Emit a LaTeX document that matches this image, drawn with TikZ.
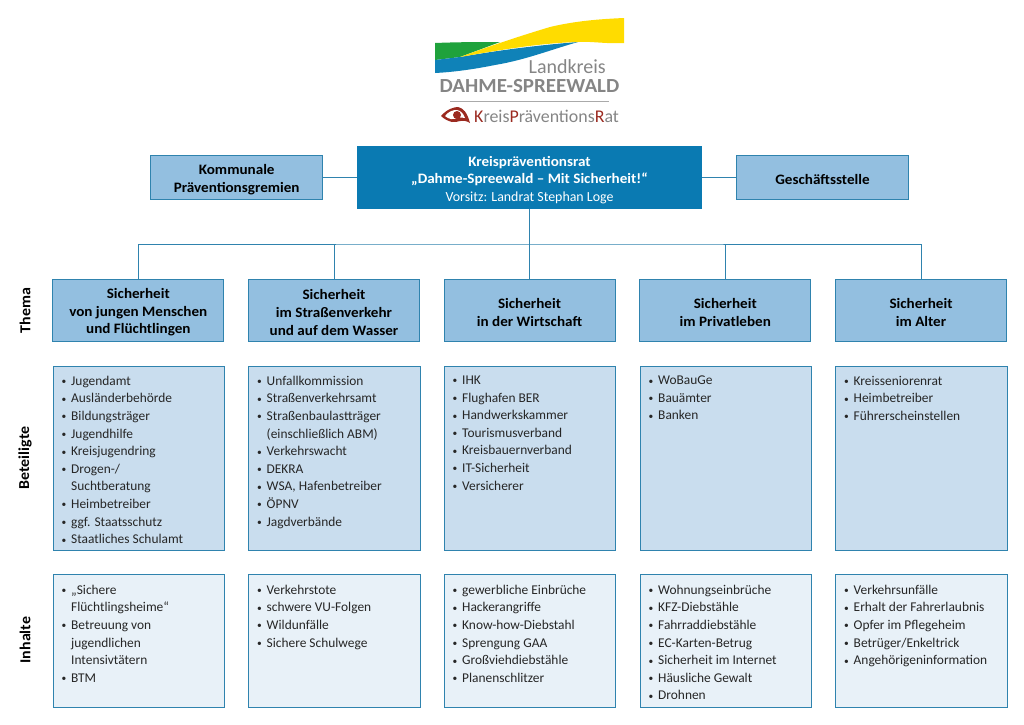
\documentclass[tikz,border=0pt]{standalone}
\usepackage{fontspec}
\setmainfont{Carlito}
\newfontfamily\widefont[FakeStretch=1.05]{Carlito}
\usetikzlibrary{positioning}
\definecolor{ratblue}{HTML}{0A7AB2}
\definecolor{edgeblue}{HTML}{2F83AE}
\definecolor{headblue}{HTML}{93BFE0}
\definecolor{midblue}{HTML}{C9DDEE}
\definecolor{paleblue}{HTML}{E8F1F8}
\definecolor{logogreen}{HTML}{1FA23C}
\definecolor{logoblue}{HTML}{0F82B8}
\definecolor{logoyellow}{HTML}{FFDC00}
\definecolor{logogray}{HTML}{858585}
\definecolor{logored}{HTML}{9B2A20}
\newcommand{\itm}{\makebox[9.5pt][l]{\raisebox{0.6pt}{\fontsize{9.5}{9.5}\selectfont\textbullet}}}
\newcommand{\ctn}{\hspace*{9.5pt}}
\newcommand{\bodyfont}{\fontsize{13.4}{17.6}\selectfont}
\newcommand{\headfont}{\widefont\fontsize{14.4}{17.6}\selectfont\bfseries}
\tikzset{
box/.style={draw=edgeblue,line width=1pt,minimum height=#1,inner sep=0pt,align=center},
head/.style={box=62pt,fill=headblue,minimum width=171pt,font=\headfont},
side/.style={box=44.5pt,fill=headblue,minimum width=171.5pt,font=\headfont},
list/.style={draw=edgeblue,line width=1pt,minimum width=171.5pt,minimum height=#1,anchor=north west},
who/.style={list=184.5pt,fill=midblue},
what/.style={list=132.5pt,fill=paleblue},
items/.style={anchor=north west,inner sep=0pt,align=left,text=black!85,font=\bodyfont},
rowlabel/.style={rotate=90,font=\widefont\fontsize{15.2}{16}\selectfont\bfseries},
link/.style={draw=edgeblue,line width=1pt}
}
\begin{document}
\begin{tikzpicture}[x=1pt,y=-1pt]
\useasboundingbox (0,0) rectangle (1024,724);
% logo
\fill[logogreen] (435,43) .. controls (460,42) and (480,42) .. (500,42) -- (460,57) -- (435,60) -- cycle;
\fill[logoblue] (435,60) -- (460,57) .. controls (500,50) and (540,45) .. (578,42) .. controls (550,50) and (525,60) .. (495,65) .. controls (475,69) and (455,72) .. (435,73) -- cycle;
\fill[logoyellow] (460,57) .. controls (490,46) and (520,36) .. (550,27) .. controls (575,21) and (600,19) .. (624,18) -- (624,43) .. controls (605,44) and (590,41) .. (578,42) .. controls (540,43) and (500,50) .. (460,57) -- cycle;
\node[anchor=base east,inner sep=0pt,text=logogray,font=\fontsize{20}{20}\selectfont] (landkreis) at (606,73) {Landkreis};
\node[anchor=base,inner sep=0pt,text=logogray,font=\widefont\fontsize{20}{20}\selectfont\bfseries] (dahme) at (529.5,92.5) {DAHME-SPREEWALD};
\draw[logogray!70,line width=0.6pt] (450,101) -- (609,101);
\fill[logored] (441,116) .. controls (447,109) and (454,107) .. (458,107) .. controls (463,108) and (467,112) .. (470,123) .. controls (462,118) and (458,123) .. (452,122) .. controls (448,121) and (444,119) .. (441,116) -- cycle;
\fill[white] (445,116) .. controls (449,111) and (453,110) .. (457,110) .. controls (461,111) and (463,113) .. (465,118) .. controls (459,116) and (455,120) .. (451,119) .. controls (449,118.5) and (447,118) .. (445,116) -- cycle;
\fill[logored] (457,115) circle (4pt);
\node[anchor=base west,inner sep=0pt,text=logogray,font=\fontsize{17.9}{18}\selectfont] (krat) at (474,122) {\textcolor{logored}{K}reis\textcolor{logored}{P}räventions\textcolor{logored}{R}at};
% top row
\node[box=62.5pt,fill=ratblue,draw=none,minimum width=344.5pt,text=white,font=\headfont] (rat) at (529.5,177.5) {\rule{0pt}{15pt}Kreispräventionsrat\\„Dahme-Spreewald – Mit Sicherheit!“\\{\normalfont\fontsize{13.9}{17.6}\selectfont\rmfamily Vorsitz: Landrat Stephan Loge}};
\node[side] (gremien) at (236.7,177.5) {\rule{0pt}{15pt}Kommunale\\Präventionsgremien};
\node[side] (stelle) at (822.5,177.5) {\rule{0pt}{15pt}Geschäftsstelle};
% Thema
\node[head] (t1) at (138.3,310.5) {\rule{0pt}{14pt}Sicherheit\\von jungen Menschen\\und Flüchtlingen};
\node[head] (t2) at (334,310.5) {\rule{0pt}{14pt}Sicherheit\\im Straßenverkehr\\und auf dem Wasser};
\node[head] (t3) at (529.5,310.5) {\rule{0pt}{14pt}Sicherheit\\in der Wirtschaft};
\node[head] (t4) at (725.3,310.5) {\rule{0pt}{14pt}Sicherheit\\im Privatleben};
\node[head] (t5) at (921,310.5) {\rule{0pt}{14pt}Sicherheit\\im Alter};
\coordinate (bus) at (529.5,244);
\path[link] (gremien) edge (rat) (stelle) edge (rat) (rat.south) edge (t3.north);
\draw[link] (t1.north) |- (bus) -| (t5.north);
\draw[link] (t2.north) -- (t2.north |- bus);
\draw[link] (t4.north) -- (t4.north |- bus);
% row labels
\node[rowlabel] (thema) at (25,310.5) {Thema};
\node[rowlabel] (beteiligte) at (25,458) {Beteiligte};
\node[rowlabel] (inhalte) at (25,640) {Inhalte};
% Beteiligte
\node[who] (b1) at (52.5,365.5) {};
\node[who] (b2) at (248.3,365.5) {};
\node[who] (b3) at (443.8,365.5) {};
\node[who] (b4) at (639.5,365.5) {};
\node[who] (b5) at (835.3,365.5) {};
\node[items] (bl1) at (61.5,375.7) {\itm Jugendamt\\\itm Ausländerbehörde\\\itm Bildungsträger\\\itm Jugendhilfe\\\itm Kreisjugendring\\\itm Drogen-/\\\ctn Suchtberatung\\\itm Heimbetreiber\\\itm ggf. Staatsschutz\\\itm Staatliches Schulamt};
\node[items] (bl2) at (257,375.7) {\itm Unfallkommission\\\itm Straßenverkehrsamt\\\itm Straßenbaulastträger\\\ctn (einschließlich ABM)\\\itm Verkehrswacht\\\itm DEKRA\\\itm WSA, Hafenbetreiber\\\itm ÖPNV\\\itm Jagdverbände};
\node[items] (bl3) at (452.5,375.7) {\itm IHK\\\itm Flughafen BER\\\itm Handwerkskammer\\\itm Tourismusverband\\\itm Kreisbauernverband\\\itm IT-Sicherheit\\\itm Versicherer};
\node[items] (bl4) at (648.5,375.7) {\itm WoBauGe\\\itm Bauämter\\\itm Banken};
\node[items] (bl5) at (844,375.7) {\itm Kreisseniorenrat\\\itm Heimbetreiber\\\itm Führerscheinstellen};
% Inhalte
\node[what] (i1) at (52.5,574) {};
\node[what] (i2) at (248.3,574) {};
\node[what] (i3) at (443.8,574) {};
\node[what] (i4) at (639.5,574) {};
\node[what] (i5) at (835.3,574) {};
\node[items] (il1) at (61.5,584.7) {\itm „Sichere\\\ctn Flüchtlingsheime“\\\itm Betreuung von\\\ctn jugendlichen\\\ctn Intensivtätern\\\itm BTM};
\node[items] (il2) at (257,584.7) {\itm Verkehrstote\\\itm schwere VU-Folgen\\\itm Wildunfälle\\\itm Sichere Schulwege};
\node[items] (il3) at (452.5,584.7) {\itm gewerbliche Einbrüche\\\itm Hackerangriffe\\\itm Know-how-Diebstahl\\\itm Sprengung GAA\\\itm Großviehdiebstähle\\\itm Planenschlitzer};
\node[items] (il4) at (648.5,584.7) {\itm Wohnungseinbrüche\\\itm KFZ-Diebstähle\\\itm Fahrraddiebstähle\\\itm EC-Karten-Betrug\\\itm Sicherheit im Internet\\\itm Häusliche Gewalt\\\itm Drohnen};
\node[items] (il5) at (844,584.7) {\itm Verkehrsunfälle\\\itm Erhalt der Fahrerlaubnis\\\itm Opfer im Pflegeheim\\\itm Betrüger/Enkeltrick\\\itm Angehörigeninformation};
\end{tikzpicture}
\end{document}
